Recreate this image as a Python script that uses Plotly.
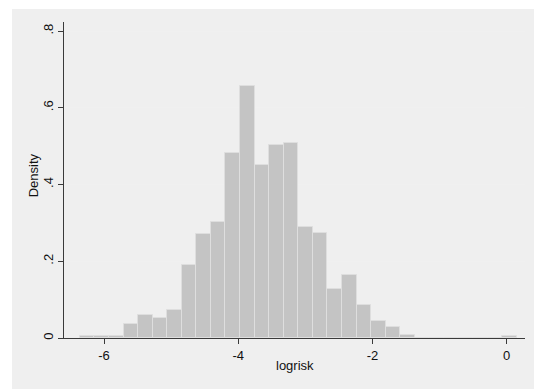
import plotly.graph_objects as go

# Histogram of logrisk: 30 equal-width bins, heights on the density scale
bin_start = -6.36
bin_width = 0.217
density = [0.0046, 0.0046, 0.0046, 0.037, 0.061, 0.053, 0.073, 0.189, 0.270, 0.302,
           0.483, 0.656, 0.451, 0.503, 0.507, 0.289, 0.274, 0.128, 0.165, 0.085,
           0.045, 0.029, 0.009, 0.0, 0.0, 0.0, 0.0, 0.0, 0.0, 0.0046]

x_ticks = [-6, -4, -2, 0]
x_tick_labels = ["-6", "-4", "-2", "0"]
y_ticks = [0, 0.2, 0.4, 0.6, 0.8]
y_tick_labels = ["0", ".2", ".4", ".6", ".8"]

centers = [bin_start + (i + 0.5) * bin_width for i in range(len(density))]

FONT = "Liberation Sans, Arial, Helvetica, sans-serif"
AXIS = "#3a3a3a"

fig = go.Figure()
fig.add_trace(go.Bar(
    x=centers, y=density, width=bin_width,
    marker=dict(color="#c4c4c4", line=dict(color="#dedede", width=1)),
    hoverinfo="x+y",
))

fig.update_layout(
    width=534, height=389,
    margin=dict(l=64, r=9, t=22, b=51),
    paper_bgcolor="white",
    plot_bgcolor="#fdfdfd",
    showlegend=False,
    bargap=0,
    font=dict(family=FONT, size=13, color="#111111"),
    xaxis=dict(
        range=[-6.596, 0.273],
        tickmode="array", tickvals=x_ticks, ticktext=x_tick_labels,
        ticks="outside", ticklen=5, tickcolor=AXIS, tickwidth=1,
        showline=True, linecolor=AXIS, linewidth=1,
        showgrid=False, zeroline=False,
        tickfont=dict(family=FONT, size=13, color="#111111"),
    ),
    yaxis=dict(
        range=[0, 0.8235],
        tickmode="array", tickvals=y_ticks, ticktext=y_tick_labels,
        tickangle=-90,
        ticks="outside", ticklen=5, tickcolor=AXIS, tickwidth=1,
        showline=True, linecolor=AXIS, linewidth=1,
        showgrid=True, gridcolor="#f0f0f0", gridwidth=1,
        zeroline=False,
        tickfont=dict(family=FONT, size=13, color="#111111"),
    ),
    shapes=[
        # light grey graph region behind the plot area
        dict(type="rect", xref="paper", yref="paper",
             x0=-0.1128, x1=1.02, y0=-0.17, y1=1.0411,
             fillcolor="#efefef", line=dict(width=0), layer="below"),
    ],
    annotations=[
        dict(text="logrisk", xref="paper", yref="paper", x=0.5, y=-0.0886,
             xanchor="center", yanchor="middle", showarrow=False,
             font=dict(family=FONT, size=13, color="#111111")),
        dict(text="Density", xref="paper", yref="paper", x=-0.0672, y=0.515,
             xanchor="center", yanchor="middle", textangle=-90, showarrow=False,
             font=dict(family=FONT, size=13, color="#111111")),
    ],
)

fig.write_html("out.html")
